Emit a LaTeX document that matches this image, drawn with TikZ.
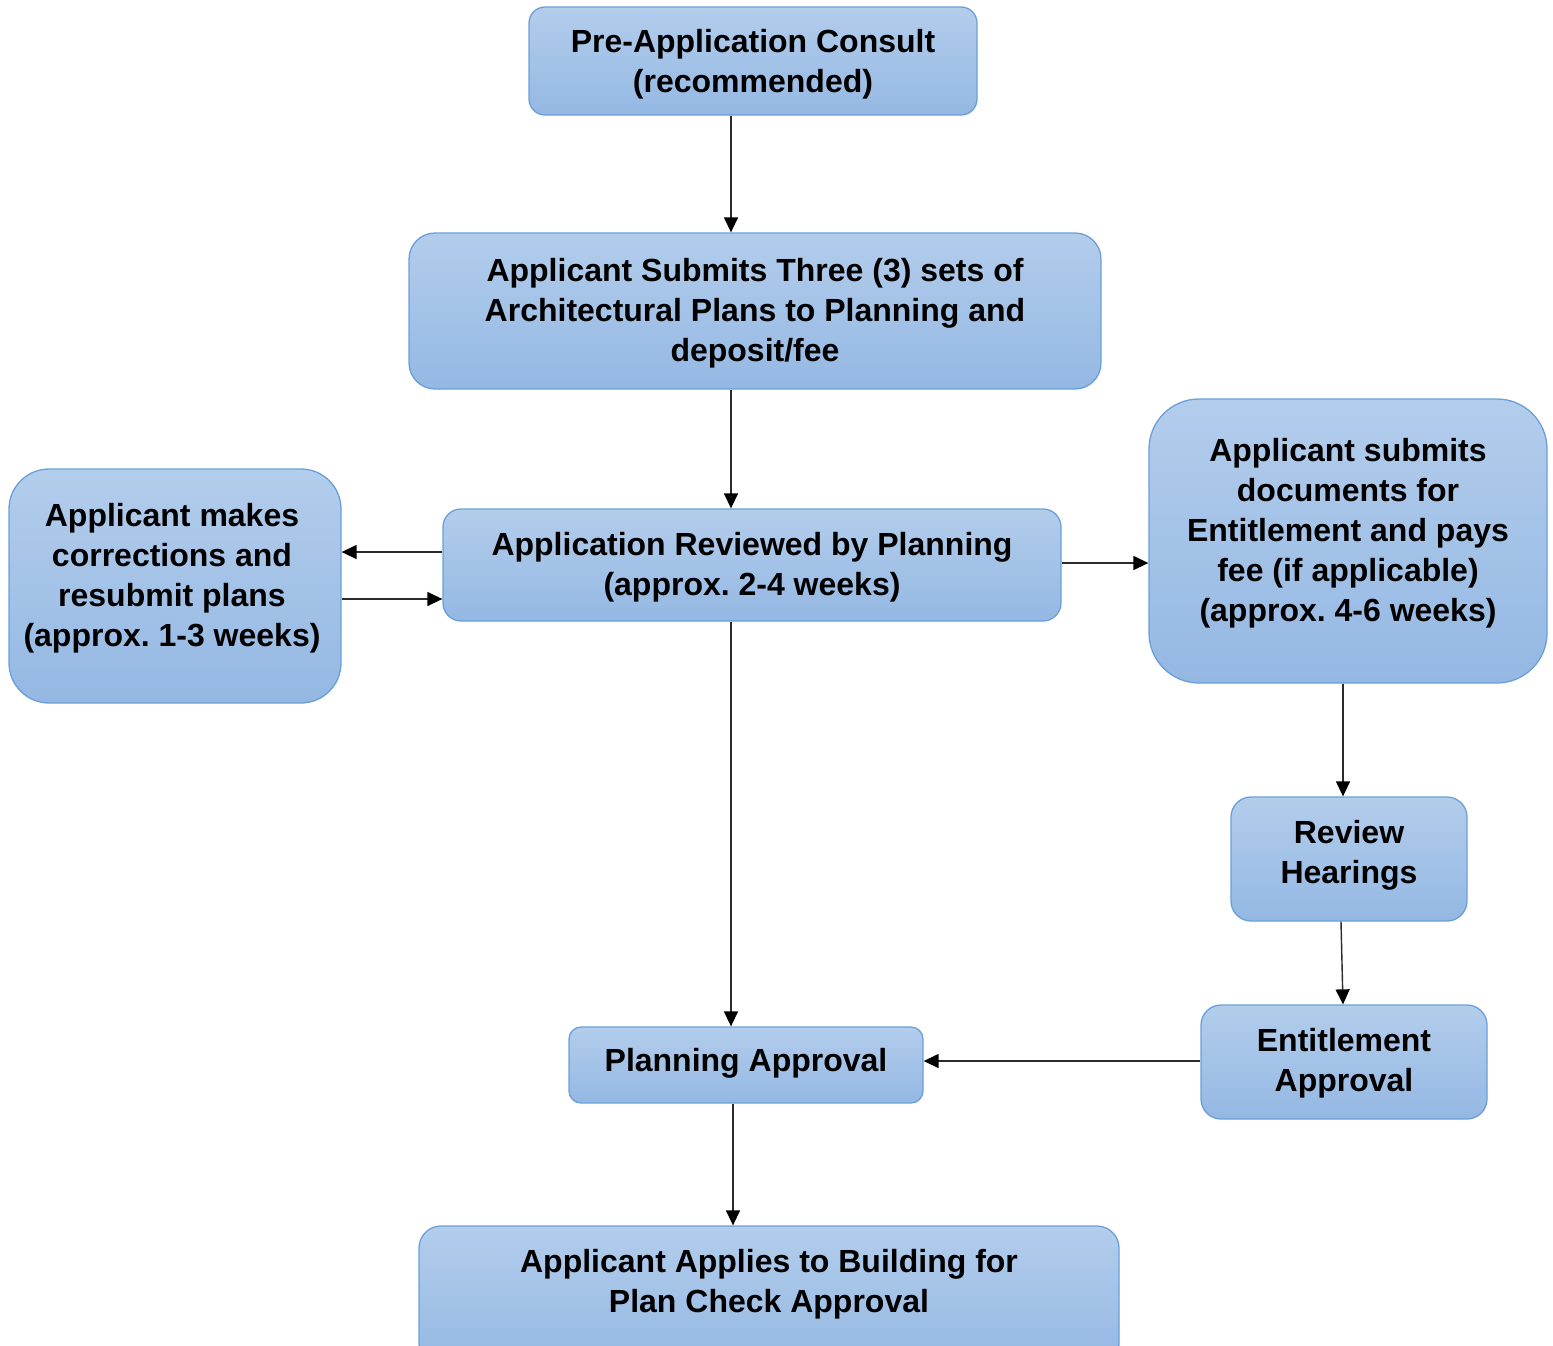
\documentclass[tikz,border=0pt]{standalone}
\usepackage{fontspec}
\setmainfont{Liberation Sans}
\usetikzlibrary{arrows.meta,calc}
\definecolor{boxtop}{HTML}{B3CDEC}
\definecolor{boxbot}{HTML}{94B8E3}
\definecolor{boxline}{HTML}{6A9FD9}
\definecolor{arrline}{HTML}{2B2B2B}
\frenchspacing
\begin{document}
\begin{tikzpicture}[x=1pt,y=-1pt,
 box/.style={draw=boxline, line width=1.3pt, top color=boxtop, bottom color=boxbot, inner sep=0pt},
 txt/.style={font=\fontsize{32}{40}\selectfont\bfseries, align=center, inner sep=0pt, text=black},
 arr/.style={draw=arrline, line width=1.4pt, -{Triangle[length=15pt,width=14pt,color=black]}}]
\useasboundingbox (0,0) rectangle (1553,1345);
% boxes
\node[box, rounded corners=16pt, minimum width=448pt, minimum height=108pt] (pre) at (753,61) {};
\node[txt] (preT) at (753,64) {Pre-Application Consult\\(recommended)};
\node[box, rounded corners=26pt, minimum width=692pt, minimum height=156pt] (sub) at (755,311) {};
\node[txt] (subT) at (755,313) {Applicant Submits Three (3) sets of\\Architectural Plans to Planning and\\deposit/fee};
\node[box, rounded corners=18pt, minimum width=618pt, minimum height=112pt] (rev) at (752,565) {};
\node[txt] (revT) at (752,567) {Application Reviewed by Planning\\(approx. 2-4 weeks)};
\node[box, rounded corners=40pt, minimum width=332pt, minimum height=234pt] (left) at (175,586) {};
\node[txt] (leftT) at (172,578) {Applicant makes\\corrections and\\resubmit plans\\(approx. 1-3 weeks)};
\node[box, rounded corners=50pt, minimum width=398pt, minimum height=284pt] (right) at (1348,541) {};
\node[txt] (rightT) at (1348,533) {Applicant submits\\documents for\\Entitlement and pays\\fee (if applicable)\\(approx. 4-6 weeks)};
\node[box, rounded corners=20pt, minimum width=236pt, minimum height=124pt] (hear) at (1349,859) {};
\node[txt] (hearT) at (1349,855) {Review\\Hearings};
\node[box, rounded corners=20pt, minimum width=286pt, minimum height=114pt] (ent) at (1344,1062) {};
\node[txt] (entT) at (1344,1063) {Entitlement\\Approval};
\node[box, rounded corners=12pt, minimum width=354pt, minimum height=76pt] (plan) at (746,1065) {};
\node[txt] (planT) at (746,1063) {Planning Approval};
\node[box, rounded corners=22pt, minimum width=700pt, minimum height=140pt] (bld) at (769,1296) {};
\node[txt] (bldT) at (769,1284) {Applicant Applies to Building for\\Plan Check Approval};
% guide coordinates
\coordinate (x731) at (731,0);
\coordinate (x733) at (733,0);
\coordinate (x1341) at (1341,0);
\coordinate (x1343) at (1343,0);
\coordinate (y552) at (0,552);
\coordinate (y599) at (0,599);
\coordinate (y563) at (0,563);
\coordinate (y1061) at (0,1061);
% connectors
\draw[arr] (pre.south -| x731) -- (sub.north -| x731);
\draw[arr] (sub.south -| x731) -- (rev.north -| x731);
\draw[arr] (rev.west |- y552) -- (left.east |- y552);
\draw[arr] (left.east |- y599) -- (rev.west |- y599);
\draw[arr] (rev.east |- y563) -- (right.west |- y563);
\draw[arr] (rev.south -| x731) -- (plan.north -| x731);
\draw[arr] (right.south -| x1343) -- (hear.north -| x1343);
\draw[arr] (hear.south -| x1341) -- (ent.north -| x1343);
\draw[arr] (ent.west |- y1061) -- (plan.east |- y1061);
\draw[arr] (plan.south -| x733) -- (bld.north -| x733);
\end{tikzpicture}
\end{document}
